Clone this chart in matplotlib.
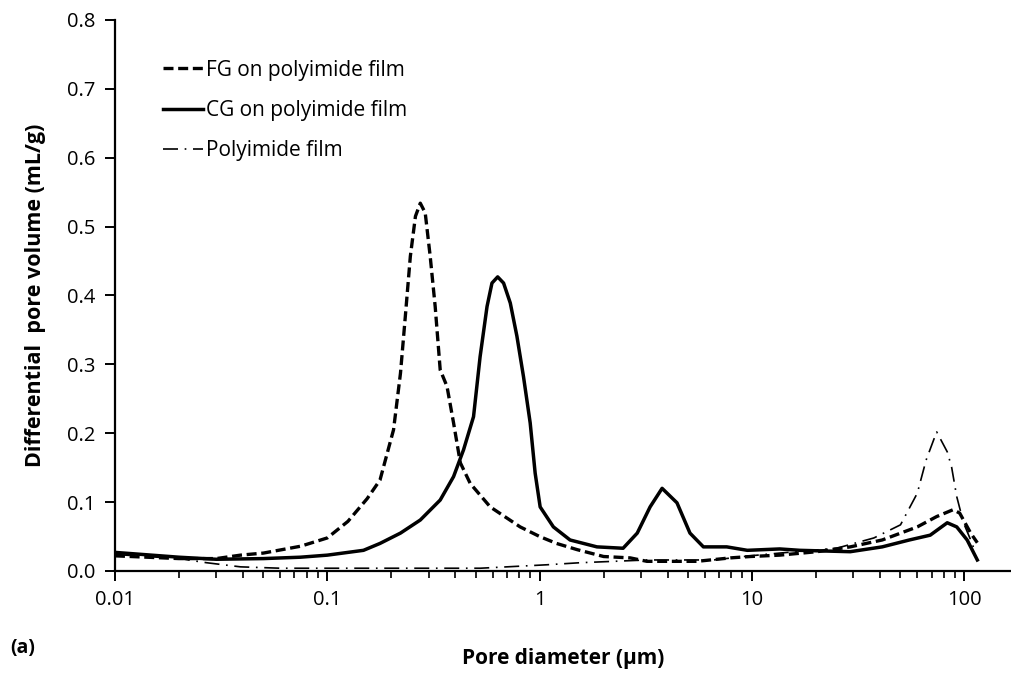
import numpy as np
import matplotlib.pyplot as plt
from matplotlib.ticker import LogLocator, FormatStrFormatter

plt.rcParams['font.family'] = ['Open Sans', 'DejaVu Sans']

# FG on polyimide film (dashed)
fg_x = [0.01, 0.02, 0.03, 0.039, 0.05, 0.075, 0.1, 0.125, 0.154, 0.177, 0.205, 0.221,
        0.233, 0.246, 0.26, 0.274, 0.289, 0.305, 0.322, 0.34, 0.366, 0.393, 0.423,
        0.471, 0.585, 0.809, 1.0, 1.2, 1.5, 2.0, 2.67, 3.2, 4.6, 5.5, 7.9, 9.8, 13.5,
        20.2, 29, 41, 60, 74, 88.5, 95, 107, 115]
fg_y = [0.022, 0.018, 0.018, 0.023, 0.026, 0.036, 0.048, 0.072, 0.105, 0.132, 0.205, 0.287,
        0.37, 0.457, 0.515, 0.534, 0.52, 0.457, 0.384, 0.292, 0.268, 0.215, 0.157,
        0.127, 0.093, 0.064, 0.05, 0.04, 0.031, 0.021, 0.019, 0.014, 0.014, 0.014, 0.019,
        0.021, 0.023, 0.028, 0.035, 0.045, 0.064, 0.079, 0.089, 0.084, 0.055, 0.041]

# CG on polyimide film (solid)
cg_x = [0.01, 0.02, 0.03, 0.05, 0.0746, 0.1, 0.148, 0.177, 0.221, 0.274, 0.34, 0.393,
        0.438, 0.488, 0.524, 0.565, 0.596, 0.634, 0.676, 0.727, 0.781, 0.839, 0.902,
        0.952, 1.005, 1.16, 1.39, 1.86, 2.47, 2.88, 3.31, 3.77, 4.43, 5.1, 5.9, 7.6,
        9.5, 13.5, 16.8, 29, 41, 55, 69, 83, 92, 103, 115]
cg_y = [0.027, 0.02, 0.017, 0.018, 0.02, 0.023, 0.03, 0.04, 0.055, 0.074, 0.103, 0.137,
        0.176, 0.224, 0.311, 0.384, 0.418, 0.427, 0.418, 0.389, 0.341, 0.282, 0.215,
        0.142, 0.093, 0.064, 0.045, 0.035, 0.033, 0.055, 0.093, 0.12, 0.099, 0.055,
        0.035, 0.035, 0.03, 0.032, 0.03, 0.028, 0.035, 0.045, 0.052, 0.07, 0.064,
        0.045, 0.016]

# Polyimide film (dash-dot)
pi_x = [0.01, 0.02, 0.027, 0.039, 0.06, 0.1, 0.2, 0.525, 1.08, 1.55, 3.2, 6.6, 9.8,
        13.5, 25, 37.5, 50, 60, 66, 74, 83, 87, 92, 99, 107, 113]
pi_y = [0.024, 0.018, 0.012, 0.006, 0.004, 0.004, 0.004, 0.004, 0.009, 0.012, 0.016,
        0.016, 0.022, 0.026, 0.033, 0.048, 0.067, 0.113, 0.161, 0.202, 0.173, 0.151,
        0.108, 0.07, 0.045, 0.026]

fig = plt.figure(figsize=(10.12, 6.77), dpi=100)
ax = fig.add_axes([0.1136, 0.1566, 0.8864, 0.8139])

ax.plot(fg_x, fg_y, color='black', lw=2.4, linestyle=(0, (3, 1.4)), label='FG on polyimide film')
ax.plot(cg_x, cg_y, color='black', lw=2.5, linestyle='-', label='CG on polyimide film')
ax.plot(pi_x, pi_y, color='black', lw=1.2, linestyle=(0, (9, 4, 1, 4)), label='Polyimide film')

ax.set_xscale('log')
ax.set_xlim(0.01, 167.5)
ax.set_ylim(0, 0.8)
ax.set_xticks([0.01, 0.1, 1, 10, 100])
ax.set_xticklabels(['0.01', '0.1', '1', '10', '100'])
ax.xaxis.set_minor_locator(LogLocator(base=10, subs=np.arange(2, 10)))
ax.set_yticks(np.arange(0, 0.81, 0.1))
ax.yaxis.set_major_formatter(FormatStrFormatter('%.1f'))

for s in ['top', 'right']:
    ax.spines[s].set_visible(False)
for s in ['left', 'bottom']:
    ax.spines[s].set_linewidth(1.6)
ax.tick_params(axis='both', which='major', direction='out', length=7, width=1.4,
               labelsize=14.5, pad=7)
ax.tick_params(axis='x', which='minor', direction='out', length=5, width=1.2)

ax.set_xlabel('Pore diameter (µm)', fontsize=15, fontweight='bold', labelpad=27)
ax.set_ylabel('Differential  pore volume (mL/g)', fontsize=15.5, fontweight='bold', labelpad=15)
fig.text(0.01, 0.043, '(a)', fontsize=14, fontweight='bold', va='center')

ax.legend(loc='upper left', bbox_to_anchor=(0.033, 0.962), frameon=False, fontsize=15,
          handlelength=1.9, handletextpad=0.15, labelspacing=0.93)

fig.savefig('out.png', dpi=100)
